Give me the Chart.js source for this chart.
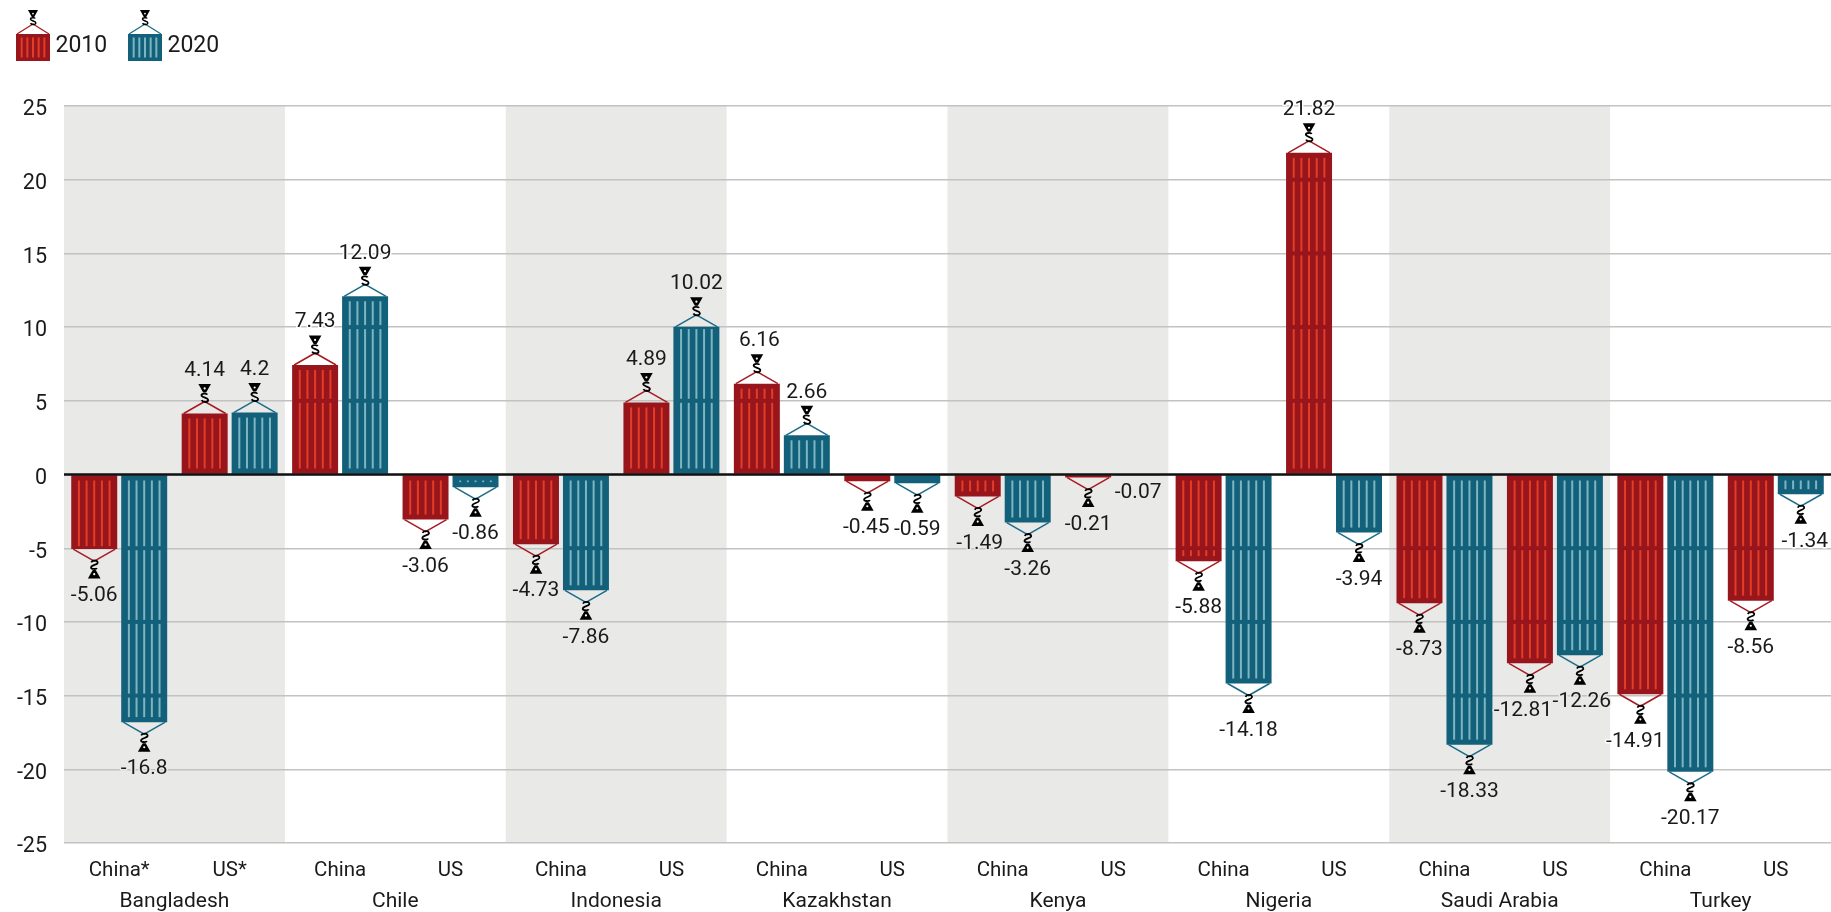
<!DOCTYPE html>
<html>
<head>
<meta charset="utf-8">
<style>html,body{margin:0;padding:0;background:#fff}canvas{display:block}</style>
<script src="https://cdn.jsdelivr.net/npm/chart.js@4"></script>
</head>
<body>
<canvas id="c" width="1831" height="912"></canvas>
<script>
const countries = ["Bangladesh","Chile","Indonesia","Kazakhstan","Kenya","Nigeria","Saudi Arabia","Turkey"];
const partners = ["China*","US*","China","US","China","US","China","US","China","US","China","US","China","US","China","US"];
const seriesNames = ["2010","2020"];
const values2010 = [-5.06,4.14,7.43,-3.06,-4.73,4.89,6.16,-0.45,-1.49,-0.21,-5.88,21.82,-8.73,-12.81,-14.91,-8.56];
const values2020 = [-16.8,4.2,12.09,-0.86,-7.86,10.02,2.66,-0.59,-3.26,-0.07,-14.18,-3.94,-18.33,-12.26,-20.17,-1.34];
const palette = [
  {fill:"#98151b", stripe:"#e23d28", rope:"#a61c22"},
  {fill:"#12607a", stripe:"#7db5c2", rope:"#1a6c88"}
];
const FONT = "Roboto, 'Noto Sans', sans-serif";
const INK = "#1a1a1a", BAND = "#e9e9e8", GRID = "#c2c2c2";
// label placement tweaks keyed by "series:index"
const labelNudge = {"0:6":2.5, "0:7":-1, "0:8":2, "0:13":-7, "0:14":-5, "1:13":2, "1:15":4};

function drawHook(ctx, cx, apexY, dir, k) {
  // dir = -1: hangs upward from a positive bar, +1: downward from a negative bar
  const y = d => apexY + dir * d * k;
  ctx.strokeStyle = "#000"; ctx.lineWidth = 1.8 * k; ctx.lineCap = "butt";
  ctx.beginPath();
  ctx.moveTo(cx - 3 * k, y(1.8));
  ctx.bezierCurveTo(cx - 1.5 * k, y(-1), cx + 4 * k, y(-0.5), cx + 3.4 * k, y(2.4));
  ctx.bezierCurveTo(cx + 3 * k, y(4.4), cx - 3.2 * k, y(4.4), cx - 3.2 * k, y(6.8));
  ctx.bezierCurveTo(cx - 3.2 * k, y(8.6), cx + 2 * k, y(9), cx + 2.6 * k, y(7.4));
  ctx.stroke();
  ctx.fillStyle = "#000";
  ctx.beginPath();
  ctx.moveTo(cx - 1.5 * k, y(9.5));
  ctx.lineTo(cx + 1.5 * k, y(9.5));
  ctx.lineTo(cx + 6.3 * k, y(18));
  ctx.lineTo(cx - 6.3 * k, y(18));
  ctx.closePath(); ctx.fill();
  ctx.fillStyle = "#fff";
  ctx.beginPath(); ctx.arc(cx, y(13.6), 1.1 * k, 0, 7); ctx.fill();
}
function drawRope(ctx, cx, edgeY, dir, half, rise, color, lw) {
  ctx.strokeStyle = color; ctx.lineWidth = lw; ctx.lineCap = "butt";
  ctx.beginPath();
  ctx.moveTo(cx - half, edgeY);
  ctx.lineTo(cx, edgeY + dir * rise);
  ctx.lineTo(cx + half, edgeY);
  ctx.stroke();
}
function stripeRun(ctx, left, w, a, b) {
  if (b - a < 1) return;
  for (let i = 1; i <= 5; i++) ctx.fillRect(left + i * w / 6 - 1, a, 2, b - a);
}

const containerPlugin = {
  id: "containers",
  beforeDraw(chart) {
    const {ctx, chartArea: ca} = chart;
    const w = (ca.right - ca.left) / countries.length;
    ctx.save(); ctx.fillStyle = BAND;
    countries.forEach((_, i) => { if (i % 2 === 0) ctx.fillRect(ca.left + i * w, ca.top, w, ca.bottom - ca.top); });
    ctx.restore();
  },
  afterDatasetsDraw(chart) {
    const {ctx, chartArea: ca} = chart;
    const y = chart.scales.y;
    const y0 = y.getPixelForValue(0);
    const unit = 5;
    ctx.save();
    // stripes: the bar is a stack of containers, one per 5 units
    chart.data.datasets.forEach((ds, d) => {
      const col = palette[d];
      chart.getDatasetMeta(d).data.forEach((bar, i) => {
        const v = ds.data[i], s = Math.sign(v), abs = Math.abs(v);
        const w = bar.width, left = bar.x - w / 2;
        ctx.fillStyle = col.stripe;
        for (let k = 0; k * unit < abs; k++) {
          const from = k * unit, to = Math.min((k + 1) * unit, abs);
          const pa = y.getPixelForValue(s * from), pb = y.getPixelForValue(s * to);
          const top = Math.min(pa, pb), bot = Math.max(pa, pb);
          const inTop = (s > 0 ? (to === abs ? 5 : 2) : (k === 0 ? 6 : 2));
          const inBot = (s > 0 ? (k === 0 ? 6 : 2) : (to === abs ? 5 : 2));
          stripeRun(ctx, left, w, top + inTop, bot - inBot);
        }
      });
    });
    // zero line over the bars
    ctx.strokeStyle = "#111"; ctx.lineWidth = 2.5;
    ctx.beginPath(); ctx.moveTo(ca.left, y0); ctx.lineTo(ca.right, y0); ctx.stroke();
    // ropes and hooks
    const labels = [];
    chart.data.datasets.forEach((ds, d) => {
      const col = palette[d];
      chart.getDatasetMeta(d).data.forEach((bar, i) => {
        const v = ds.data[i], dir = v >= 0 ? -1 : 1;
        const cx = bar.x, edge = bar.y;
        if (Math.abs(v) < 0.1) {
          labels.push({cx, y: edge + 17.5, t: String(v)});
          return;
        }
        drawRope(ctx, cx, edge, dir, 21, 12, col.rope, 1.5);
        drawHook(ctx, cx, edge + dir * 11.5, dir, 1);
        labels.push({cx: cx + (labelNudge[d + ":" + i] || 0), y: edge + (v >= 0 ? -43 : 47), t: String(v)});
      });
    });
    // value labels
    ctx.font = "21px " + FONT;
    ctx.textAlign = "center"; ctx.textBaseline = "middle"; ctx.lineJoin = "round";
    const gw = (ca.right - ca.left) / countries.length;
    labels.forEach(l => {
      const inBand = Math.floor((l.cx - ca.left) / gw) % 2 === 0;
      ctx.strokeStyle = inBand ? BAND : "#fff"; ctx.lineWidth = 3;
      ctx.strokeText(l.t, l.cx, l.y);
      ctx.fillStyle = INK;
      ctx.fillText(l.t, l.cx, l.y);
    });
    // legend
    const legendX = [16, 128];
    seriesNames.forEach((name, d) => {
      const col = palette[d], lx = legendX[d], cw = 34, top = 34, bot = 61;
      ctx.fillStyle = col.fill; ctx.fillRect(lx, top, cw, bot - top);
      ctx.fillStyle = col.stripe;
      stripeRun(ctx, lx, cw, top + 3.5, bot - 3.5);
      drawRope(ctx, lx + cw / 2, top, -1, 16, 10, col.rope, 1.3);
      drawHook(ctx, lx + cw / 2, top - 9.5, -1, 0.8);
      ctx.fillStyle = INK; ctx.font = "23px " + FONT;
      ctx.textAlign = "left"; ctx.textBaseline = "middle";
      ctx.fillText(name, lx + cw + 5.5, 46);
    });
    ctx.restore();
  }
};

new Chart(document.getElementById("c"), {
  type: "bar",
  plugins: [containerPlugin],
  data: {
    labels: partners,
    datasets: [
      {label: seriesNames[0], data: values2010, backgroundColor: palette[0].fill},
      {label: seriesNames[1], data: values2020, backgroundColor: palette[1].fill}
    ]
  },
  options: {
    responsive: false,
    animation: false,
    devicePixelRatio: 1,
    categoryPercentage: 0.905,
    barPercentage: 0.92,
    layout: {padding: {top: 106, right: 0, bottom: 0, left: 0}},
    plugins: {legend: {display: false}, tooltip: {enabled: false}},
    scales: {
      y: {
        min: -25, max: 25,
        afterFit(s) { s.width = 64; },
        afterUpdate(s) {
          const base = s.drawLabels;
          s.drawLabels = function (area) {
            this.ctx.save(); this.ctx.translate(0, 2);
            base.call(this, area);
            this.ctx.restore();
          };
        },
        ticks: {stepSize: 5, padding: 17, color: INK, font: {family: FONT, size: 21.5}},
        grid: {color: GRID, lineWidth: 1.4, drawTicks: false},
        border: {display: false}
      },
      x: {
        type: "category", position: "bottom", weight: 1,
        afterFit(s) { s.height = 43; },
        ticks: {autoSkip: false, maxRotation: 0, minRotation: 0, padding: 16, color: INK, font: {family: FONT, size: 20.5}},
        grid: {display: false, drawTicks: false},
        border: {display: false}
      },
      x2: {
        type: "category", position: "bottom", weight: 2, labels: countries,
        afterFit(s) { s.height = 26; },
        ticks: {autoSkip: false, maxRotation: 0, minRotation: 0, padding: 3, color: INK, font: {family: FONT, size: 21}},
        grid: {display: false, drawTicks: false},
        border: {display: false}
      }
    }
  }
});
</script>
</body>
</html>
